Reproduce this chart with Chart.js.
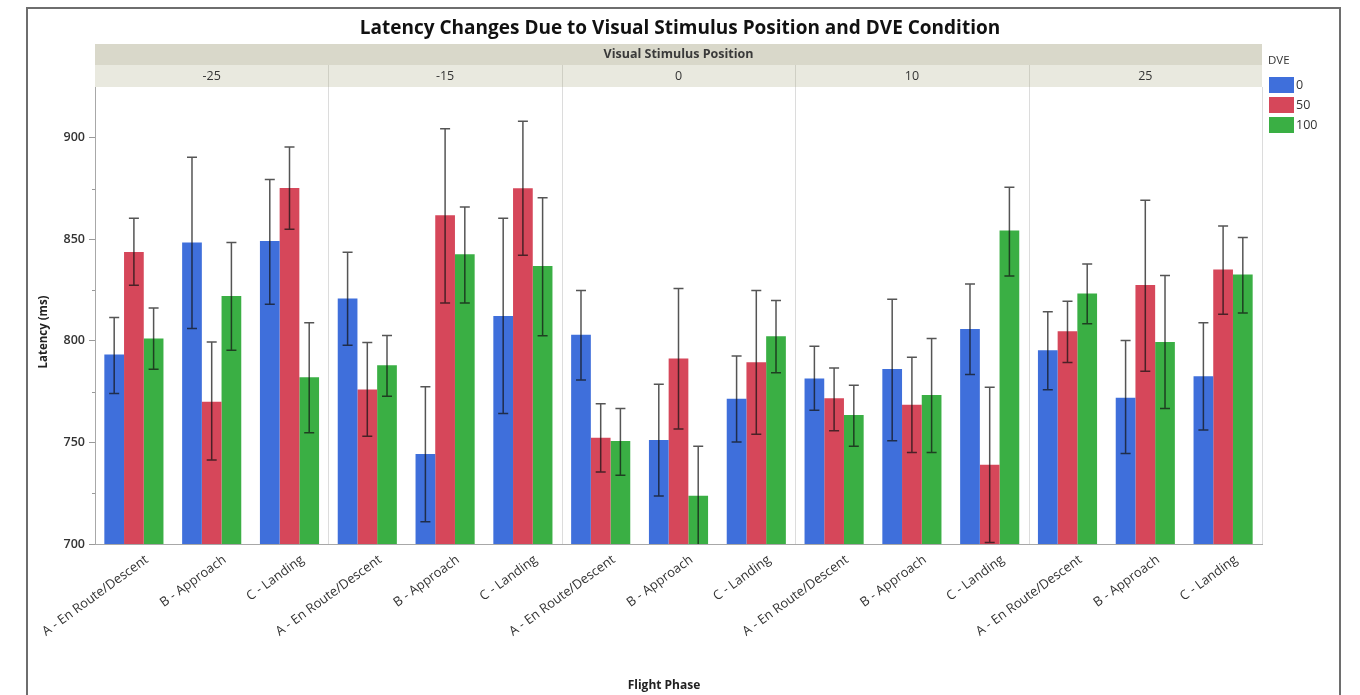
<!DOCTYPE html>
<html>
<head>
<meta charset="utf-8">
<title>Latency Changes Due to Visual Stimulus Position and DVE Condition</title>
<script src="https://cdn.jsdelivr.net/npm/chart.js@4.4.1/dist/chart.umd.min.js"></script>
<style>
  html, body { margin: 0; padding: 0; background: #ffffff; }
  #wrap { width: 1360px; height: 695px; position: relative; }
</style>
</head>
<body>
<div id="wrap"><canvas id="chart" width="1360" height="695"></canvas></div>
<script>
// Panels (visual stimulus position) and the flight phases inside each panel
const positions = ['-25', '-15', '0', '10', '25'];
const phases = ['A - En Route/Descent', 'B - Approach', 'C - Landing'];
const dveLevels = ['0', '50', '100'];

// Mean latency (ms), one value per position x phase, in panel order
const dve0   = [793.3, 848.4, 849.2, 820.9, 744.3, 812.3, 803.0, 751.2, 771.5, 781.5, 786.1, 805.8, 795.4, 772.0, 782.6];
const dve50  = [843.8, 770.0, 875.3, 776.1, 861.8, 875.1, 752.3, 791.3, 789.5, 771.7, 768.5, 739.0, 804.8, 827.5, 835.1];
const dve100 = [801.2, 822.1, 782.1, 788.0, 842.6, 836.9, 750.7, 723.8, 802.3, 763.5, 773.3, 854.3, 823.3, 799.5, 832.7];

// Error bar limits (ms)
const dve0Lo   = [774.1, 806.1, 818.0, 797.9, 711.0, 764.3, 780.8, 723.6, 750.2, 765.8, 750.8, 783.5, 775.9, 744.6, 756.1];
const dve0Hi   = [811.5, 890.4, 879.4, 843.6, 777.4, 860.4, 824.8, 778.7, 792.5, 797.4, 820.5, 828.0, 814.3, 800.2, 808.9];
const dve50Lo  = [827.4, 741.3, 855.0, 753.1, 818.7, 842.2, 735.4, 756.6, 754.0, 755.7, 745.1, 700.8, 789.4, 785.1, 813.1];
const dve50Hi  = [860.4, 799.4, 895.5, 799.2, 904.5, 908.1, 769.0, 825.8, 824.8, 786.7, 792.0, 777.2, 819.5, 869.2, 856.6];
const dve100Lo = [786.0, 795.4, 754.8, 772.8, 818.7, 802.5, 733.8, 699.5, 784.3, 748.1, 745.1, 832.0, 808.4, 766.7, 813.7];
const dve100Hi = [816.2, 848.4, 808.9, 802.7, 865.9, 870.5, 766.7, 748.1, 819.9, 778.2, 801.2, 875.6, 837.9, 832.2, 850.9];

// Y axis ticks
const yTicks = [700, 750, 800, 850, 900];
const yMinorTicks = [725, 775, 825, 875];

const categories = positions.flatMap(() => phases);

const FONT = '"Open Sans", "Noto Sans", "DejaVu Sans", sans-serif';
const colors = ['#3f6fdb', '#d6475a', '#3aaf44'];

const seriesMeans = [dve0, dve50, dve100];
const seriesLo = [dve0Lo, dve50Lo, dve100Lo];
const seriesHi = [dve0Hi, dve50Hi, dve100Hi];

const datasets = dveLevels.map((lvl, i) => ({
  label: lvl,
  data: seriesMeans[i],
  errLo: seriesLo[i],
  errHi: seriesHi[i],
  backgroundColor: colors[i],
  borderWidth: 0,
  categoryPercentage: 0.76,
  barPercentage: 1.0
}));

const PLOT = { left: 95, right: 1262, top: 87, bottom: 544 };

// Frame, header strips, panel dividers, title, legend and axis titles
const decorations = {
  id: 'decorations',
  beforeDraw(chart) {
    const ctx = chart.ctx;
    const ca = chart.chartArea;
    ctx.save();
    ctx.fillStyle = '#ffffff';
    ctx.fillRect(0, 0, chart.width, chart.height);

    // outer frame
    ctx.strokeStyle = '#6e6e6e';
    ctx.lineWidth = 2;
    ctx.strokeRect(27, 8, 1313, 700);

    // header strips
    ctx.fillStyle = '#d9d8ca';
    ctx.fillRect(ca.left, 44, ca.right - ca.left, 21);
    ctx.fillStyle = '#e9e9df';
    ctx.fillRect(ca.left, 65, ca.right - ca.left, ca.top - 65);

    ctx.fillStyle = '#3a3a3a';
    ctx.font = 'bold 12.5px ' + FONT;
    ctx.textAlign = 'center';
    ctx.textBaseline = 'middle';
    ctx.fillText('Visual Stimulus Position', (ca.left + ca.right) / 2, 54.5);

    const pw = (ca.right - ca.left) / positions.length;
    ctx.font = '12.5px ' + FONT;
    ctx.fillStyle = '#333';
    positions.forEach((p, i) => {
      ctx.fillText(p, ca.left + pw * (i + 0.5), 76);
    });
    ctx.strokeStyle = '#cfcfc4';
    ctx.lineWidth = 1;
    for (let i = 1; i < positions.length; i++) {
      const x = Math.round(ca.left + pw * i) + 0.5;
      ctx.beginPath();
      ctx.moveTo(x, 65);
      ctx.lineTo(x, ca.top);
      ctx.stroke();
    }

    // panel dividers inside the plot
    ctx.strokeStyle = '#dcdcdc';
    for (let i = 1; i <= positions.length; i++) {
      const x = Math.round(ca.left + pw * i) + 0.5;
      ctx.beginPath();
      ctx.moveTo(x, ca.top);
      ctx.lineTo(x, ca.bottom);
      ctx.stroke();
    }

    // minor y ticks
    const ys = chart.scales.y;
    ctx.strokeStyle = '#9a9a9a';
    yMinorTicks.forEach(v => {
      const y = Math.round(ys.getPixelForValue(v)) + 0.5;
      ctx.beginPath();
      ctx.moveTo(ca.left - 3, y);
      ctx.lineTo(ca.left, y);
      ctx.stroke();
    });
    ctx.restore();
  },
  afterDatasetsDraw(chart) {
    const ctx = chart.ctx;
    const ca = chart.chartArea;
    const ys = chart.scales.y;
    ctx.save();
    ctx.beginPath();
    ctx.rect(ca.left, ca.top - 2, ca.right - ca.left, ca.bottom - ca.top + 2);
    ctx.clip();
    ctx.strokeStyle = 'rgba(20,20,20,0.72)';
    ctx.lineWidth = 1.5;
    chart.data.datasets.forEach((ds, di) => {
      const meta = chart.getDatasetMeta(di);
      meta.data.forEach((bar, i) => {
        const x = bar.x;
        const yTop = ys.getPixelForValue(ds.errHi[i]);
        const yBot = ys.getPixelForValue(ds.errLo[i]);
        const cap = 5;
        ctx.beginPath();
        ctx.moveTo(x, yTop);
        ctx.lineTo(x, yBot);
        ctx.moveTo(x - cap, yTop);
        ctx.lineTo(x + cap, yTop);
        ctx.moveTo(x - cap, yBot);
        ctx.lineTo(x + cap, yBot);
        ctx.stroke();
      });
    });
    ctx.restore();
  },
  afterDraw(chart) {
    const ctx = chart.ctx;
    ctx.save();
    // title
    ctx.fillStyle = '#111';
    ctx.font = 'bold 19px ' + FONT;
    ctx.textAlign = 'center';
    ctx.textBaseline = 'middle';
    ctx.fillText('Latency Changes Due to Visual Stimulus Position and DVE Condition', 680, 29);

    // axis titles
    ctx.font = 'bold 12px ' + FONT;
    ctx.fillStyle = '#222';
    ctx.fillText('Flight Phase', 664, 686);
    ctx.font = 'bold 11.5px ' + FONT;
    ctx.save();
    ctx.translate(44, 332);
    ctx.rotate(-Math.PI / 2);
    ctx.fillText('Latency (ms)', 0, 0);
    ctx.restore();

    // legend
    ctx.textAlign = 'left';
    ctx.font = '11.5px ' + FONT;
    ctx.fillStyle = '#333';
    ctx.fillText('DVE', 1268, 61);
    chart.data.datasets.forEach((ds, i) => {
      const y = 77 + i * 20;
      ctx.fillStyle = ds.backgroundColor;
      ctx.fillRect(1269, y, 25, 16);
      ctx.fillStyle = '#333';
      ctx.font = '12.5px ' + FONT;
      ctx.fillText(ds.label, 1296, y + 8.5);
    });
    ctx.restore();
  }
};

new Chart(document.getElementById('chart'), {
  type: 'bar',
  data: { labels: categories, datasets },
  plugins: [decorations],
  options: {
    responsive: false,
    animation: false,
    layout: { padding: { top: PLOT.top, right: 1360 - PLOT.right, left: 0, bottom: 0 } },
    plugins: {
      legend: { display: false },
      title: { display: false },
      tooltip: { enabled: false }
    },
    scales: {
      x: {
        grid: { display: false },
        border: { display: true, color: '#a8a8a8', width: 1 },
        ticks: {
          autoSkip: false,
          minRotation: 36,
          maxRotation: 36,
          padding: 0,
          labelOffset: 13,
          color: '#333',
          font: { family: FONT, size: 13 }
        },
        afterFit(scale) { scale.height = 695 - PLOT.bottom; }
      },
      y: {
        min: 700,
        max: 925,
        afterBuildTicks(scale) { scale.ticks = yTicks.map(v => ({ value: v })); },
        grid: { display: true, drawOnChartArea: false, tickLength: 6, color: '#9a9a9a' },
        border: { display: true, color: '#a8a8a8', width: 1 },
        ticks: {
          padding: 4,
          color: '#333',
          font: { family: FONT, size: 12.5, weight: '600' }
        },
        afterFit(scale) { scale.width = PLOT.left; }
      }
    }
  }
});
</script>
</body>
</html>
